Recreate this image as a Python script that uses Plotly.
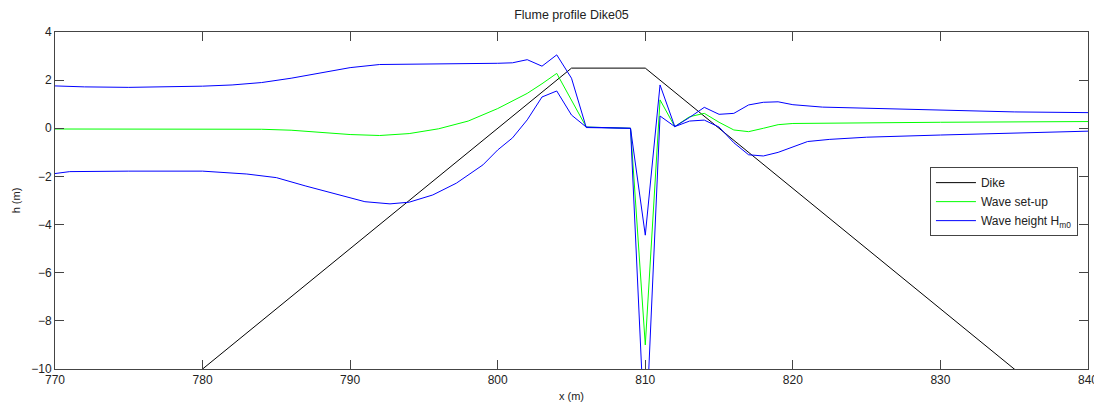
import plotly.graph_objects as go

# Dike profile
dike_x = [775, 805, 810, 840]
dike_y = [-12.5, 2.5, 2.5, -12.5]

# Wave set-up
setup_x = [770, 775, 780, 784, 786, 788, 790, 792, 794, 796, 798, 800, 802, 803, 804, 806,
           809, 810, 811, 812, 813, 814, 815, 816, 817, 818, 819, 820, 825, 830, 840]
setup_y = [-0.03, -0.03, -0.03, -0.04, -0.08, -0.17, -0.26, -0.30, -0.22, -0.02, 0.30, 0.82, 1.45, 1.85, 2.28, 0.05,
           0.0, -9.0, 1.18, 0.07, 0.48, 0.62, 0.25, -0.07, -0.14, 0.0, 0.15, 0.20, 0.23, 0.25, 0.28]

# Wave height envelope (upper)
hup_x = [770, 772, 775, 778, 780, 782, 784, 786, 788, 790, 792, 794, 796, 798, 800, 801, 802, 803, 804, 805, 806,
         809, 810, 811, 812, 813, 814, 815, 816, 817, 818, 819, 820, 822, 824, 826, 830, 835, 840]
hup_y = [1.76, 1.72, 1.70, 1.72, 1.75, 1.80, 1.90, 2.08, 2.30, 2.52, 2.65, 2.66, 2.66, 2.67, 2.70, 2.72, 2.85, 2.58, 3.05, 2.08, 0.03,
         0.0, -4.44, 1.80, 0.07, 0.45, 0.87, 0.58, 0.62, 0.97, 1.08, 1.10, 0.98, 0.88, 0.85, 0.79, 0.74, 0.68, 0.65]

# Wave height envelope (lower)
hlo_x = [770, 771, 775, 780, 783, 785, 787, 789, 791, 792.7, 794, 795.6, 797.2, 799, 800, 801, 802, 803, 804, 805, 806,
         809, 810, 811, 812, 813, 814, 815, 816, 817, 818, 819, 820, 821, 822.5, 825, 830, 835, 840]
hlo_y = [-1.88, -1.80, -1.78, -1.78, -1.90, -2.05, -2.40, -2.72, -3.05, -3.14, -3.07, -2.77, -2.28, -1.52, -0.90, -0.40, 0.35, 1.30, 1.55, 0.55, 0.05,
         0.0, -13.3, 0.51, 0.07, 0.30, 0.34, 0.05, -0.60, -1.10, -1.15, -1.00, -0.78, -0.55, -0.46, -0.37, -0.28, -0.20, -0.12]

x_ticks = [770, 780, 790, 800, 810, 820, 830, 840]
y_ticks = [-10, -8, -6, -4, -2, 0, 2, 4]

FONT = "Liberation Sans, Arial, sans-serif"
TXT = "#222222"

# page body has an 8px margin; figure sized to fit the 1102x405 window
W, H = 1094, 397

fig = go.Figure()
fig.add_trace(go.Scatter(x=dike_x, y=dike_y, mode="lines", name="Dike",
                         line=dict(color="#000000", width=1)))
fig.add_trace(go.Scatter(x=setup_x, y=setup_y, mode="lines", name="Wave set-up",
                         line=dict(color="#00ff00", width=1)))
fig.add_trace(go.Scatter(x=hup_x, y=hup_y, mode="lines", name="Wave height H<sub>m0</sub>",
                         line=dict(color="#0000ff", width=1), legendgroup="h"))
fig.add_trace(go.Scatter(x=hlo_x, y=hlo_y, mode="lines", name="Wave height lower",
                         line=dict(color="#0000ff", width=1), legendgroup="h", showlegend=False))

axis_common = dict(
    showgrid=False, zeroline=False, showline=True, linecolor="#444444", linewidth=1,
    mirror="ticks", ticks="inside", ticklen=9, tickcolor="#444444", automargin=False,
    tickfont=dict(family=FONT, size=12, color=TXT),
)

fig.update_layout(
    width=W, height=H,
    paper_bgcolor="white", plot_bgcolor="white",
    margin=dict(l=46.5, r=14, t=24, b=36, autoexpand=False),
    title=dict(text="Flume profile Dike05", x=0.5, xref="paper", xanchor="center",
               yref="container", y=1 - 7 / H, yanchor="middle",
               font=dict(family=FONT, size=12.5, color=TXT)),
    xaxis=dict(range=[770, 840], tickvals=x_ticks,
               title=dict(text="x (m)", standoff=5, font=dict(family=FONT, size=11, color=TXT)),
               **axis_common),
    yaxis=dict(range=[-10, 4], tickvals=y_ticks,
               title=dict(text="h (m)", standoff=8, font=dict(family=FONT, size=11, color=TXT)),
               **axis_common),
    showlegend=True,
    legend=dict(x=0.847, y=0.599, xanchor="left", yanchor="top",
                bgcolor="white", bordercolor="#444444", borderwidth=1,
                font=dict(family=FONT, size=12, color=TXT),
                tracegroupgap=0, itemwidth=40),
)

fig.write_html("out.html")
